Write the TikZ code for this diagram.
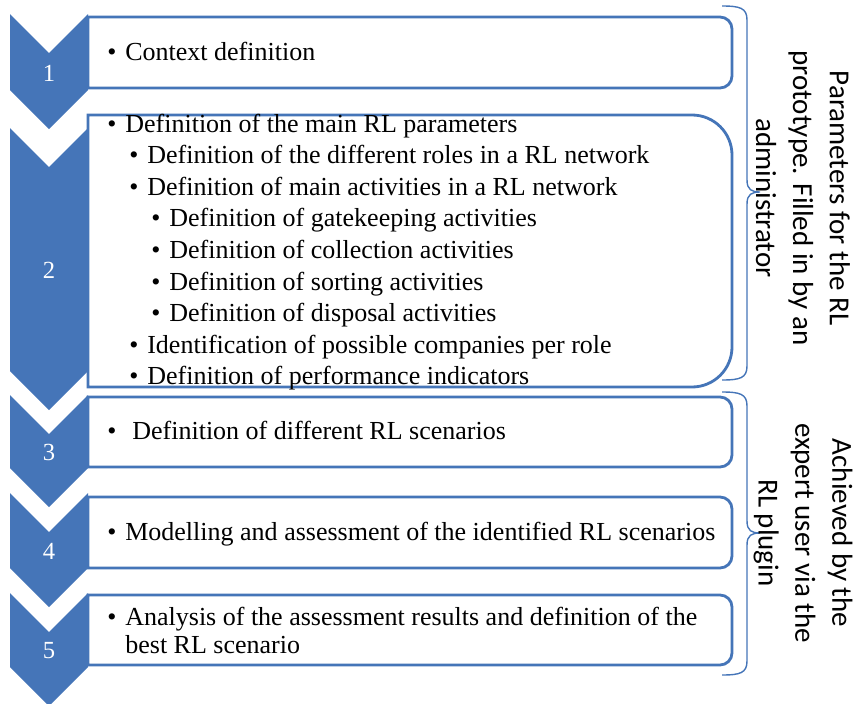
\documentclass[tikz,border=0pt]{standalone}
\usepackage{fontspec}
\setmainfont{Liberation Serif}
\newfontfamily\notefont{Carlito}
\definecolor{stepblue}{RGB}{69,117,184}
\newcommand\itm[1]{\makebox[0.36cm][l]{\textbullet}#1}
\tikzset{
	chev/.style={fill=stepblue},
	boxline/.style={draw=stepblue,fill=white,line width=1.6pt},
	brace/.style={draw=stepblue,line width=0.8pt},
	num/.style={text=white,font=\fontsize{14}{16}\selectfont},
	item/.style={anchor=base west,inner sep=0pt,font=\fontsize{14.8}{18}\selectfont},
	note/.style={rotate=-90,align=center,font=\notefont\fontsize{16.5}{21}\selectfont}
}
\begin{document}
\begin{tikzpicture}[x=0.02cm,y=-0.02cm]
	\useasboundingbox (0,0) rectangle (858,703);
	% boxes
	\draw[boxline] (88,17) -- (720,17) arc (-90:0:12) -- (732,76) arc (0:90:12) -- (88,88) -- cycle;
	\draw[boxline] (88,115) -- (692,115) arc (-90:0:40) -- (732,347) arc (0:90:40) -- (88,387) -- cycle;
	\draw[boxline] (88,397) -- (720,397) arc (-90:0:12) -- (732,455) arc (0:90:12) -- (88,467) -- cycle;
	\draw[boxline] (88,497) -- (720,497) arc (-90:0:12) -- (732,556) arc (0:90:12) -- (88,568) -- cycle;
	\draw[boxline] (88,595) -- (720,595) arc (-90:0:12) -- (732,653) arc (0:90:12) -- (88,665) -- cycle;
	% chevrons with numbers
	\foreach \t/\b/\n in {14/90/1,128/371/2,395/468/3,493/568/4,593/667/5}{
		\fill[chev] (10,\t) -- (49,\t+39) -- (88,\t) -- (88,\b) -- (49,\b+39) -- (10,\b) -- cycle;
		\node[num] (n\n) at (49,{(\t+39+\b)/2+1.5}) {\n};
	}
	% texts
	\node[item] (c1) at (107,60) {\itm{Context definition}};
	\foreach \lvl/\txt [count=\i] in {0/Definition of the main RL parameters,
		1/Definition of the different roles in a RL network,
		1/Definition of main activities in a RL network,
		2/Definition of gatekeeping activities,
		2/Definition of collection activities,
		2/Definition of sorting activities,
		2/Definition of disposal activities,
		1/Identification of possible companies per role,
		1/Definition of performance indicators}{
		\node[item] (p\i) at ({107+22*\lvl},{132+31.6*(\i-1)}) {\itm{\txt}};
	}
	\node[item] (c3) at (107,439) {\makebox[0.5cm][l]{\textbullet}Definition of different RL scenarios};
	\node[item] (c4) at (107,540) {\itm{Modelling and assessment of the identified RL scenarios}};
	\node[item] (c5) at (107,625) {\itm{Analysis of the assessment results and definition of the}};
	\node[item] (c5b) at (125,653) {best RL scenario};
	% braces
	\draw[brace] (722,6) .. controls (740,6) and (747,8) .. (747,20) -- (747,180)
		.. controls (747,190) and (752,192) .. (760,192)
		.. controls (752,192) and (747,194) .. (747,204) -- (747,366)
		.. controls (747,378) and (740,380) .. (722,380);
	\draw[brace] (722,392) .. controls (740,392) and (747,394) .. (747,406) -- (747,521)
		.. controls (747,531) and (752,533) .. (760,533)
		.. controls (752,533) and (747,535) .. (747,545) -- (747,661)
		.. controls (747,673) and (740,675) .. (722,675);
	\node[note] (adm) at (803,198) {Parameters for the RL\\prototype. Filled in by an\\administrator};
	\node[note] (exp) at (803,533) {Achieved by the\\expert user via the\\RL plugin};
\end{tikzpicture}
\end{document}
